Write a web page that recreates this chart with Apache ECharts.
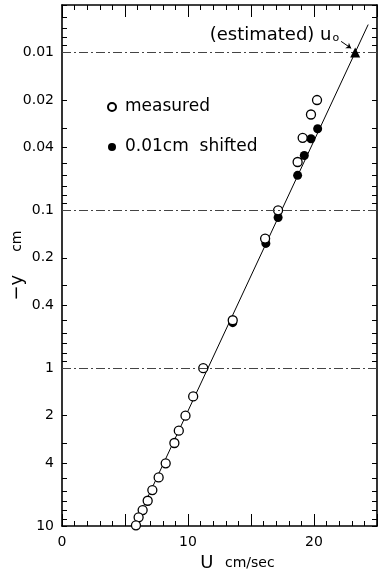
<!DOCTYPE html>
<html>
<head>
<meta charset="utf-8">
<script src="https://cdn.jsdelivr.net/npm/echarts@6/dist/echarts.min.js"></script>
<style>
html, body { margin: 0; padding: 0; background: #fff; }
#chart { width: 383px; height: 577px; }
</style>
</head>
<body>
<div id="chart"></div>
<script>
// values (U in cm/sec, -y in cm)
var measuredU = [20.24, 19.76, 19.1, 18.7, 17.15, 16.12, 13.55, 11.21, 10.41, 9.80, 9.27, 8.92, 8.23, 7.67, 7.17, 6.80, 6.40, 6.08, 5.87];
var measuredY = [0.020, 0.0247, 0.0347, 0.0494, 0.100, 0.151, 0.497, 1.0, 1.51, 2.0, 2.49, 2.98, 4.01, 4.92, 5.92, 6.92, 7.93, 8.81, 9.9];
var shiftedU = [20.29, 19.76, 19.23, 18.7, 17.15, 16.18, 13.55];
var shiftedY = [0.0304, 0.0352, 0.0449, 0.060, 0.111, 0.162, 0.515];
var fitU = [5.74, 24.3];
var fitY = [10, 0.00665];
var estimatedU = [23.27];
var estimatedY = [0.01];
var arrowU = [22.15, 22.95];
var arrowY = [0.0085, 0.0094];
var refLinesY = [0.01, 0.1, 1];
var xLabels = [0, 10, 20];
var yLabels = [0.01, 0.02, 0.04, 0.1, 0.2, 0.4, 1, 2, 4, 10];
var yDecades = [0.001, 0.01, 0.1, 1];
var yMantissas = [1, 2, 3, 4, 5, 6, 7, 8, 9];

var font = 'DejaVu Sans';

function pairs(xs, ys) {
    return xs.map(function (x, i) { return [x, ys[i]]; });
}

var yTicks = [10];
yDecades.forEach(function (d) {
    yMantissas.forEach(function (m) {
        var v = parseFloat((m * d).toPrecision(3));
        if (v >= 0.005) yTicks.push(v);
    });
});

var chart = echarts.init(document.getElementById('chart'));

function xAxisOf(pos) {
    return {
        type: 'value', position: pos, min: 0, max: 25, interval: 5,
        axisLine: {show: true, onZero: false, lineStyle: {color: '#000', width: 1.6}},
        axisTick: {show: true, inside: true, length: 12, lineStyle: {color: '#000', width: 1}},
        minorTick: {show: true, splitNumber: 5, length: 5, lineStyle: {color: '#000', width: 1}},
        splitLine: {show: false},
        axisLabel: {
            show: pos === 'bottom', fontSize: 14, color: '#000', fontFamily: font, margin: 9,
            formatter: function (v) { return xLabels.indexOf(v) >= 0 ? String(v) : ''; }
        }
    };
}

function yAxisOf(pos) {
    return {
        type: 'log', logBase: 10, position: pos, min: 0.005, max: 10, inverse: true,
        axisLine: {show: true, onZero: false, lineStyle: {color: '#000', width: 1.6}},
        axisTick: {show: true, inside: true, length: 5, customValues: yTicks, lineStyle: {color: '#000', width: 1}},
        splitLine: {show: false},
        axisLabel: {
            show: pos === 'left', customValues: yLabels, fontSize: 14, color: '#000', fontFamily: font, margin: 8,
            formatter: function (v) { return String(v); }
        }
    };
}

var xBottom = xAxisOf('bottom');
xBottom.name = '{u|U}   {c|cm/sec}';
xBottom.nameLocation = 'middle';
xBottom.nameGap = 28;
xBottom.nameMoveOverlap = false;
xBottom.nameTextStyle = {
    padding: [0, 0, 0, 36],
    rich: {
        u: {fontSize: 18, fontFamily: font, color: '#000'},
        c: {fontSize: 14, fontFamily: font, color: '#000'}
    }
};

var yLeft = yAxisOf('left');
yLeft.name = '{a|\u2212y}      {b|cm}';
yLeft.nameLocation = 'middle';
yLeft.nameRotate = 90;
yLeft.nameGap = 36;
yLeft.nameMoveOverlap = false;
yLeft.nameTextStyle = {
    rich: {
        a: {fontSize: 18, fontFamily: font, color: '#000'},
        b: {fontSize: 14, fontFamily: font, color: '#000'}
    }
};

var option = {
    backgroundColor: '#fff',
    animation: false,
    textStyle: {fontFamily: font, color: '#000'},
    grid: {left: 62, right: 6, top: 5, bottom: 51},
    legend: {
        data: ['measured', '0.01cm  shifted'],
        orient: 'vertical',
        left: 102, top: 92,
        itemWidth: 16, itemHeight: 8, itemGap: 20,
        textStyle: {fontSize: 17, fontFamily: font, color: '#000', lineHeight: 20}
    },
    xAxis: [xBottom, xAxisOf('top')],
    yAxis: [yLeft, yAxisOf('right')],
    series: [{
        name: 'fit',
        type: 'line',
        data: pairs(fitU, fitY),
        showSymbol: false,
        lineStyle: {color: '#000', width: 1},
        z: 1,
        markLine: {
            silent: true,
            symbol: 'none',
            label: {show: false},
            lineStyle: {color: '#444', width: 1, type: [9, 3, 2, 3]},
            data: refLinesY.map(function (v) { return {yAxis: v}; })
        }
    }, {
        name: '0.01cm  shifted',
        type: 'scatter',
        data: pairs(shiftedU, shiftedY),
        symbol: 'circle',
        symbolSize: 9,
        itemStyle: {color: '#000', opacity: 1},
        z: 3
    }, {
        name: 'measured',
        type: 'scatter',
        data: pairs(measuredU, measuredY),
        symbol: 'circle',
        symbolSize: 9,
        itemStyle: {color: '#fff', borderColor: '#000', borderWidth: 1.3, opacity: 1},
        z: 4
    }, {
        name: 'estimated',
        type: 'scatter',
        data: pairs(estimatedU, estimatedY),
        symbol: 'triangle',
        symbolSize: 10,
        itemStyle: {color: '#000', opacity: 1},
        z: 5,
        label: {
            show: true,
            position: 'left',
            distance: 11,
            offset: [0, -17],
            formatter: '(estimated) u{s|o}',
            fontSize: 18,
            fontFamily: font,
            color: '#000',
            rich: {s: {fontSize: 11, fontFamily: font, color: '#000', padding: [6, 0, 0, 1]}}
        },
        markLine: {
            silent: true,
            symbol: ['none', 'arrow'],
            symbolSize: 5,
            label: {show: false},
            lineStyle: {color: '#000', width: 1, type: 'solid'},
            data: [[{coord: [arrowU[0], arrowY[0]]}, {coord: [arrowU[1], arrowY[1]]}]]
        }
    }]
};

chart.setOption(option);
</script>
</body>
</html>
